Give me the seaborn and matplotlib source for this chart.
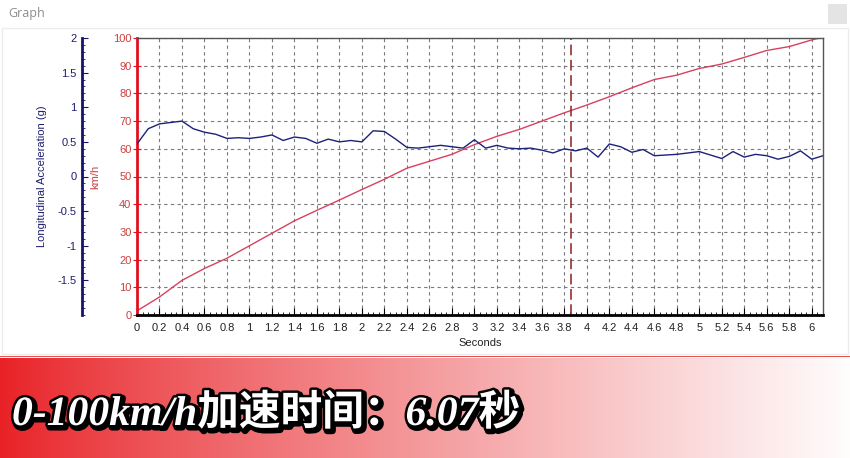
import numpy as np
import pandas as pd
import matplotlib
matplotlib.use("Agg")
import matplotlib.pyplot as plt
import matplotlib.patheffects as pe
from matplotlib.ticker import MultipleLocator, FuncFormatter, NullLocator
from matplotlib.patches import Rectangle
import seaborn as sns

# ---------------- data ----------------
accel_time = [0.0, 0.1, 0.2, 0.3, 0.4, 0.5, 0.6, 0.7, 0.8, 0.9,
              1.0, 1.1, 1.2, 1.3, 1.4, 1.5, 1.6, 1.7, 1.8, 1.9,
              2.0, 2.1, 2.2, 2.3, 2.4, 2.5, 2.6, 2.7, 2.8, 2.9,
              3.0, 3.1, 3.2, 3.3, 3.4, 3.5, 3.6, 3.7, 3.8, 3.9,
              4.0, 4.1, 4.2, 4.3, 4.4, 4.5, 4.6, 4.7, 4.8, 4.9,
              5.0, 5.1, 5.2, 5.3, 5.4, 5.5, 5.6, 5.7, 5.8, 5.9,
              6.0, 6.1]
accel_g = [0.47, 0.69, 0.76, 0.78, 0.80, 0.69, 0.64, 0.61, 0.55, 0.56,
           0.55, 0.57, 0.60, 0.52, 0.57, 0.55, 0.48, 0.54, 0.50, 0.52,
           0.50, 0.66, 0.65, 0.54, 0.42, 0.41, 0.43, 0.45, 0.43, 0.41,
           0.53, 0.41, 0.45, 0.41, 0.40, 0.41, 0.38, 0.34, 0.40, 0.37,
           0.41, 0.28, 0.47, 0.43, 0.35, 0.39, 0.30, 0.31, 0.32, 0.34,
           0.36, 0.31, 0.26, 0.36, 0.28, 0.32, 0.30, 0.25, 0.29, 0.37,
           0.25, 0.30]

speed_time = [0.0, 0.2, 0.4, 0.6, 0.8, 1.0, 1.2, 1.4, 1.6, 1.8,
              2.0, 2.2, 2.4, 2.6, 2.8, 3.0, 3.2, 3.4, 3.6, 3.8,
              4.0, 4.2, 4.4, 4.6, 4.8, 5.0, 5.2, 5.4, 5.6, 5.8,
              6.0, 6.07]
speed_kmh = [1.5, 6.5, 12.5, 16.8, 20.5, 25.0, 29.5, 34.0, 37.8, 41.5,
             45.3, 49.0, 53.0, 55.5, 58.0, 61.5, 64.5, 67.0, 70.0, 73.0,
             75.8, 78.8, 82.0, 85.0, 86.6, 89.0, 90.6, 93.0, 95.5, 96.9,
             99.3, 100.0]

marker_time = 3.86
x_ticks = [round(0.2 * i, 1) for i in range(31)]
kmh_ticks = [0, 10, 20, 30, 40, 50, 60, 70, 80, 90, 100]
g_ticks = [-1.5, -1, -0.5, 0, 0.5, 1, 1.5, 2]

window_title = "Graph"
x_label = "Seconds"
kmh_label = "km/h"
g_label = "Longitudinal Acceleration (g)"
banner_text = "0-100km/h加速时间：6.07秒"

# ---------------- style ----------------
sns.set_theme(style="white")
plt.rcParams['font.family'] = ['Liberation Sans', 'DejaVu Sans']

W, H = 850, 458
fig = plt.figure(figsize=(W / 100, H / 100), dpi=100)
fig.patch.set_facecolor("white")

RED_LINE = "#d8405e"
RED_AX = "#e0101e"
RED_TXT = "#cc4040"
BLUE_LINE = "#1c2278"
BLUE_AX = "#141470"

L, R, T, B = 137, 823, 38, 315
ax = fig.add_axes([L / W, 1 - B / H, (R - L) / W, (B - T) / H])
ax2 = ax.twinx()

# speed line
speed_df = pd.DataFrame({"t": speed_time, "v": speed_kmh})
sns.lineplot(data=speed_df, x="t", y="v", ax=ax, color=RED_LINE, lw=1.0)
ax.axvline(marker_time, color="#8a1e1e", lw=1.1, dashes=(7, 3))

ax.set_xlim(0, 6.1)
ax.set_ylim(0, 100)
ax.set_xticks(x_ticks)
ax.xaxis.set_major_formatter(FuncFormatter(lambda v, p: f"{v:g}"))
ax.xaxis.set_minor_locator(MultipleLocator(0.05))
ax.set_yticks(kmh_ticks)
ax.yaxis.set_minor_locator(NullLocator())
ax.grid(True, which="major", color="#7a7a7a", lw=0.8, dashes=(3, 3))
ax.set_axisbelow(True)

ax.tick_params(axis="x", which="major", direction="in", length=5, width=0.8,
               color="black", labelsize=8, pad=6, labelcolor="#222222",
               bottom=True)
ax.tick_params(axis="x", which="minor", direction="in", length=2.5, width=0.6,
               color="black", bottom=True)
ax.tick_params(axis="y", which="major", direction="inout", length=6, width=0.8,
               color=RED_AX, labelsize=8, labelcolor=RED_TXT, pad=1, left=True)

ax.set_xlabel(x_label, fontsize=8, color="#222222", labelpad=3)
ax.set_ylabel(kmh_label, fontsize=8, color=RED_TXT)
ax.yaxis.set_label_coords((100 - L) / (R - L), 0.5)

ax.spines["left"].set_color(RED_AX)
ax.spines["left"].set_linewidth(2.0)
ax.spines["bottom"].set_color("black")
ax.spines["bottom"].set_linewidth(2.0)
ax.spines["top"].set_color("#555555")
ax.spines["top"].set_linewidth(1.0)
ax.spines["right"].set_color("#555555")
ax.spines["right"].set_linewidth(1.0)

# acceleration line
accel_df = pd.DataFrame({"t": accel_time, "g": accel_g})
sns.lineplot(data=accel_df, x="t", y="g", ax=ax2, color=BLUE_LINE, lw=1.0)
ax2.set_xlim(0, 6.1)
ax2.set_ylim(-2, 2)
ax2.yaxis.set_ticks_position("left")
ax2.yaxis.set_label_position("left")
ax2.spines["left"].set_position(("outward", (L - 82) * 0.72))
ax2.spines["left"].set_visible(True)
ax2.spines["left"].set_color(BLUE_AX)
ax2.spines["left"].set_linewidth(2.0)
for s in ["right", "top", "bottom"]:
    ax2.spines[s].set_visible(False)
ax2.set_yticks(g_ticks)
ax2.yaxis.set_major_formatter(FuncFormatter(lambda v, p: f"{v:g}"))
ax2.yaxis.set_minor_locator(MultipleLocator(0.1))
ax2.tick_params(axis="y", which="major", direction="in", length=4, width=0.8,
                color=BLUE_AX, labelsize=8, labelcolor="#1e1e6e", pad=4,
                left=True, right=False)
ax2.tick_params(axis="y", which="minor", direction="in", length=2,
                width=0.6, color=BLUE_AX, left=True, right=False)
ax2.set_xlabel("")
ax2.set_ylabel(g_label, fontsize=8, color="#1e1e6e")
ax2.yaxis.set_label_coords((47 - L) / (R - L), 0.5)
ax2.grid(False)

# window chrome
fig.text(8 / W, 1 - 13 / H, window_title, fontsize=9, color="#8c8c8c",
         va="center", ha="left", family=["Open Sans", "DejaVu Sans"])
fig.patches.append(Rectangle((828 / W, 1 - 24 / H), 19 / W, 20 / H,
                             transform=fig.transFigure, facecolor="#e4e4e4",
                             edgecolor="none"))
fig.patches.append(Rectangle((1.5 / W, 1 - 354 / H), 846 / W, 326 / H,
                             transform=fig.transFigure, facecolor="none",
                             edgecolor="#ececec", lw=1.0))

# banner with gradient
bax = fig.add_axes([0, 0, 1, 100 / H])
xs = np.linspace(0, 1, 400)
c0 = np.array([0.91, 0.13, 0.15])
c1 = np.array([1.0, 0.99, 0.99])
f = xs ** 0.85
grad = c0[None, :] * (1 - f[:, None]) + c1[None, :] * f[:, None]
bax.imshow(grad[None, :, :], aspect="auto", extent=[0, 1, 0, 1])
bax.set_xlim(0, 1)
bax.set_ylim(0, 1)
bax.axis("off")
fig.patches.append(Rectangle((0, 1 - 357 / H), 1, 1.5 / H,
                             transform=fig.transFigure, facecolor="#e85050",
                             edgecolor="none"))

fig.text(12 / W, 1 - 425 / H, banner_text, fontsize=30, color="white",
         weight="bold", style="italic", ha="left", va="baseline",
         family=["Liberation Serif", "Noto Sans CJK SC"],
         path_effects=[pe.Stroke(linewidth=5, foreground="black",
                                 offset=(1.5, -1.5)),
                       pe.Stroke(linewidth=3.5, foreground="black"),
                       pe.Normal()])

fig.savefig("out.png", dpi=100)
